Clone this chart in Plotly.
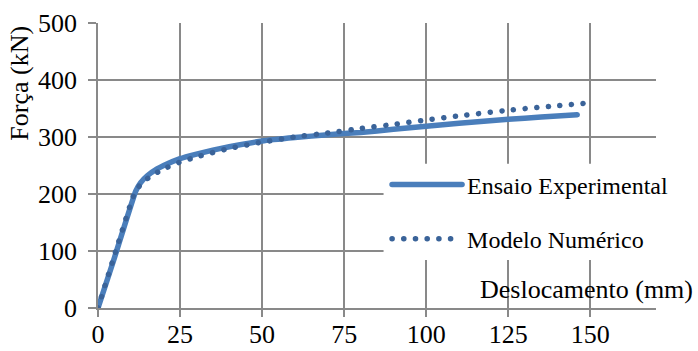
import plotly.graph_objects as go

# Força x deslocamento: ensaio experimental vs. modelo numérico
exp_desloc = [0, 5, 11.5, 13, 15, 18, 20, 25, 30, 35, 40, 50, 60, 70, 80, 90, 100, 110, 125, 135, 146]
exp_forca = [0, 88, 205, 220, 232, 244, 250, 262, 270, 277, 283, 293, 299, 304, 308, 313.5, 319, 324, 331, 335, 339]

num_desloc = [0, 5, 11, 13, 16, 20, 25, 30, 40, 50, 60, 70, 80, 90, 100, 110, 125, 140, 150]
num_forca = [0, 92, 200, 217, 231, 244, 256, 265, 280, 291, 300, 307, 315, 322, 330, 337, 347, 355, 360]

x_ticks = [0, 25, 50, 75, 100, 125, 150]
y_ticks = [0, 100, 200, 300, 400, 500]

FONT = "Liberation Serif"
GRID = "#898989"

fig = go.Figure()
fig.add_trace(go.Scatter(
    x=exp_desloc, y=exp_forca, mode="lines", name="Ensaio Experimental",
    line=dict(color="#4A7EBB", width=5.5, shape="spline", smoothing=0.4),
    legendgroup="a",
))
fig.add_trace(go.Scatter(
    x=num_desloc, y=num_forca, mode="lines", name="Modelo Numérico",
    line=dict(color="#3A6399", width=5.5, dash="0.1px,11.6px", shape="spline", smoothing=0.4),
    legendgroup="b",
))

# white panel behind the legend
fig.add_shape(type="rect", xref="x", yref="y", x0=87, x1=170, y0=84, y1=253,
              fillcolor="white", line=dict(width=0), layer="between")

axis_common = dict(
    showgrid=True, gridcolor=GRID, gridwidth=1.5,
    showline=True, linecolor=GRID, linewidth=1.5,
    ticks="outside", tickcolor=GRID, tickwidth=1.5,
    tickfont=dict(family=FONT, size=26, color="black"),
    zeroline=False, fixedrange=True, automargin=False,
)

fig.update_xaxes(range=[0, 170], tickvals=x_ticks, ticklen=7, ticklabelstandoff=-5,
                 **axis_common)
fig.update_yaxes(range=[0, 500], tickvals=y_ticks, ticklen=8, ticklabelstandoff=6,
                 **axis_common)

fig.add_annotation(text="Força (kN)", xref="paper", yref="paper", x=-0.14, y=0.79,
                   textangle=-90, showarrow=False, xanchor="center", yanchor="middle",
                   font=dict(family=FONT, size=26, color="black"))
fig.add_annotation(text="Deslocamento (mm)", xref="paper", yref="paper", x=0.681, y=0.066,
                   showarrow=False, xanchor="left", yanchor="middle",
                   font=dict(family=FONT, size=26, color="black"))

fig.update_layout(
    width=698, height=351,
    margin=dict(l=98, r=42, t=23, b=43, autoexpand=False),
    plot_bgcolor="white", paper_bgcolor="white",
    showlegend=True,
    legend=dict(x=0.518, y=0.511, xanchor="left", yanchor="top",
                bgcolor="rgba(0,0,0,0)", borderwidth=0, itemwidth=70,
                traceorder="grouped", tracegroupgap=20,
                font=dict(family=FONT, size=24, color="black")),
)

# round line caps on every line, legend samples included
post = """
var st = document.createElement('style');
st.textContent = "path.js-line{stroke-linecap:round !important;}";
document.head.appendChild(st);
"""

fig.write_html("out.html", post_script=post)
